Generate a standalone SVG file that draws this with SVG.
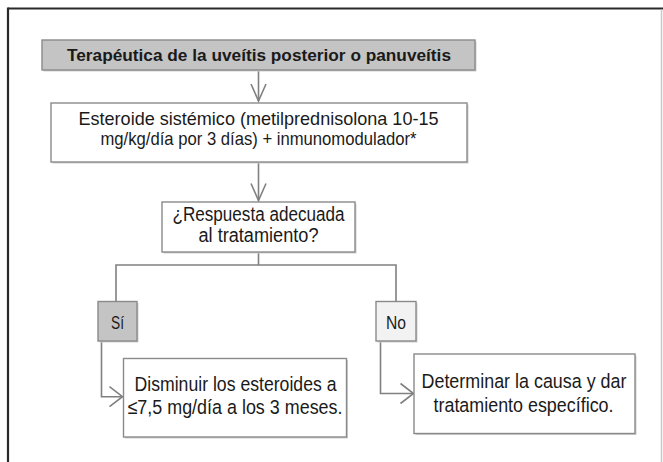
<svg xmlns="http://www.w3.org/2000/svg" width="663" height="462" viewBox="0 0 663 462">
  <style>
    .box { fill: #ffffff; stroke: #8a8a8a; stroke-width: 1.4; }
    .gray { fill: #c4c4c4; }
    .light { fill: #f2f2f2; }
    .sh { fill: #cfcfcf; stroke: none; }
    .t { font-family: "Liberation Sans Narrow", "Liberation Sans", Arial, sans-serif; fill: #1a1a1a; text-anchor: middle; }
    .title { font-weight: bold; font-size: 17px; }
    .m { font-size: 19.5px; }
    .m2 { font-size: 18.5px; }
    .s { font-size: 17.5px; }
    .l { font-size: 20.5px; }
    .conn { fill: none; stroke: #808080; stroke-width: 1.6; }
    .ah { fill: none; stroke: #808080; stroke-width: 1.6; stroke-linejoin: miter; }
  </style>
  <defs>
    <marker id="arrV" markerUnits="userSpaceOnUse" orient="auto" viewBox="-19 -10 21 20" refX="0" refY="0" markerWidth="21" markerHeight="20">
      <path class="ah" d="M-17,-7.5 L0,0 L-17,7.5"/>
    </marker>
    <marker id="arrH" markerUnits="userSpaceOnUse" orient="auto" viewBox="-15 -12 17 24" refX="0" refY="0" markerWidth="17" markerHeight="24">
      <path class="ah" d="M-13,-10 L0,0 L-13,10"/>
    </marker>
  </defs>

  <rect x="0" y="0" width="663" height="462" fill="#ffffff"/>
  <g id="frame">
    <line x1="8" y1="8.5" x2="663" y2="8.5" stroke="#2a2a2a" stroke-width="2.2"/>
    <line x1="8" y1="7.5" x2="8" y2="462" stroke="#2a2a2a" stroke-width="2.2"/>
    <line x1="661.5" y1="9.5" x2="661.5" y2="462" stroke="#c8c8c8" stroke-width="1.5"/>
  </g>

  <g id="connectors">
    <path class="conn" d="M258.5,70 V101" marker-end="url(#arrV)"/>
    <path class="conn" d="M258.5,162 V200.5" marker-end="url(#arrV)"/>
    <path class="conn" d="M258.5,252 V265 M116,265 H396 M116,264.2 V301 M396,264.2 V301"/>
    <path class="conn" d="M101.5,341 V396.7 H122.5" marker-end="url(#arrH)"/>
    <path class="conn" d="M380.5,341 V393.5 H413.5" marker-end="url(#arrH)"/>
  </g>

  <g id="title">
    <rect class="sh" x="43.5" y="41.5" width="433" height="30"/>
    <rect class="box gray" x="42" y="40" width="433" height="30"/>
    <text class="t title" x="259" y="60.5" textLength="384" lengthAdjust="spacingAndGlyphs">Terapéutica de la uveítis posterior o panuveítis</text>
  </g>

  <g id="esteroide">
    <rect class="sh" x="52.5" y="104.5" width="416" height="59"/>
    <rect class="box" x="51" y="103" width="416" height="59"/>
    <text class="t m2" x="258.5" y="125" textLength="360" lengthAdjust="spacingAndGlyphs">Esteroide sistémico (metilprednisolona 10-15</text>
    <text class="t m2" x="258.5" y="145" textLength="316" lengthAdjust="spacingAndGlyphs">mg/kg/día por 3 días) + inmunomodulador*</text>
  </g>

  <g id="respuesta">
    <rect class="sh" x="163.5" y="203.5" width="193" height="50"/>
    <rect class="box" x="162" y="202" width="193" height="50"/>
    <text class="t m" x="258.5" y="220.5" textLength="172" lengthAdjust="spacingAndGlyphs">¿Respuesta adecuada</text>
    <text class="t m" x="258.5" y="242" textLength="120" lengthAdjust="spacingAndGlyphs">al tratamiento?</text>
  </g>

  <g id="si">
    <rect class="sh" x="99.5" y="303" width="39" height="39.5"/>
    <rect class="box gray" x="98" y="301.5" width="39" height="39.5"/>
    <text class="t s" x="117.5" y="328.5" textLength="13" lengthAdjust="spacingAndGlyphs">Sí</text>
  </g>

  <g id="no">
    <rect class="sh" x="377.5" y="303" width="40" height="39.5"/>
    <rect class="box light" x="376" y="301.5" width="40" height="39.5"/>
    <text class="t s" x="396" y="328.5" textLength="20" lengthAdjust="spacingAndGlyphs">No</text>
  </g>

  <g id="disminuir">
    <rect class="sh" x="125" y="360" width="223" height="78.5"/>
    <rect class="box" x="123.5" y="358.5" width="223" height="78.5"/>
    <text class="t l" x="235.5" y="390.5" textLength="202" lengthAdjust="spacingAndGlyphs">Disminuir los esteroides  a</text>
    <text class="t l" x="235" y="414" textLength="215" lengthAdjust="spacingAndGlyphs">≤7,5 mg/día a los 3 meses.</text>
  </g>

  <g id="determinar">
    <rect class="sh" x="415.5" y="355.5" width="221" height="79.5"/>
    <rect class="box" x="414" y="354" width="221" height="79.5"/>
    <text class="t l" x="524" y="387.5" textLength="205" lengthAdjust="spacingAndGlyphs">Determinar  la causa y dar</text>
    <text class="t l" x="523.5" y="412" textLength="180" lengthAdjust="spacingAndGlyphs">tratamiento  específico.</text>
  </g>
</svg>
